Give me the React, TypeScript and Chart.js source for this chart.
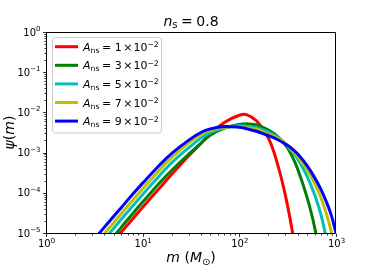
import React, { useEffect, useRef } from "react";
import { Chart, registerables } from "chart.js";
Chart.register(...registerables);

// Masses (M_sun) at which the curves were read
const masses = [3, 4, 5, 6, 8, 10, 15, 20, 30, 40, 50, 70, 100, 120, 150, 200, 250, 300, 350, 400, 500, 600, 700, 800, 900, 1000];

// psi(m) for each A_ns (null = far below the plotted range)
const psiA1 = [1.41e-6, 3.24e-6, 6.31e-6, 1.05e-5, 2.34e-5, 4.37e-5, 1.32e-4, 2.88e-4, 8.32e-4, 1.7e-3, 2.88e-3, 5.62e-3, 8.51e-3, 8.71e-3, 6.17e-3, 2.29e-3, 4.9e-4, 8.51e-5, 1.26e-5, 1.78e-6, null, null, null, null, null, null];
const psiA3 = [1.86e-6, 4.27e-6, 8.13e-6, 1.38e-5, 3.16e-5, 5.89e-5, 1.78e-4, 3.63e-4, 9.12e-4, 1.7e-3, 2.69e-3, 4.07e-3, 5.01e-3, 5.19e-3, 4.9e-3, 3.63e-3, 2.51e-3, 1.55e-3, 8.32e-4, 3.98e-4, 7.94e-5, 1.41e-5, 1.58e-6, null, null, null];
const psiA5 = [3.02e-6, 6.92e-6, 1.29e-5, 2.19e-5, 4.9e-5, 9.12e-5, 2.69e-4, 5.62e-4, 1.32e-3, 2.29e-3, 3.16e-3, 4.17e-3, 4.68e-3, 4.47e-3, 4.17e-3, 3.24e-3, 2.45e-3, 1.66e-3, 1.07e-3, 7.08e-4, 2.63e-4, 9.12e-5, 2.82e-5, 6.31e-6, 6.31e-7, null];
const psiA7 = [4.17e-6, 9.55e-6, 1.78e-5, 3.02e-5, 6.76e-5, 1.26e-4, 3.72e-4, 7.59e-4, 1.74e-3, 2.82e-3, 3.55e-3, 4.27e-3, 4.47e-3, 4.17e-3, 3.8e-3, 2.88e-3, 2.29e-3, 1.7e-3, 1.17e-3, 7.94e-4, 3.8e-4, 1.74e-4, 7.41e-5, 2.88e-5, 1.0e-5, 3.16e-6];
const psiA9 = [6.03e-6, 1.38e-5, 2.57e-5, 4.27e-5, 9.55e-5, 1.74e-4, 4.9e-4, 9.55e-4, 2.04e-3, 3.16e-3, 3.89e-3, 4.47e-3, 4.27e-3, 3.89e-3, 3.39e-3, 2.63e-3, 2.09e-3, 1.62e-3, 1.26e-3, 9.33e-4, 4.79e-4, 2.4e-4, 1.2e-4, 5.75e-5, 2.63e-5, 1.0e-5];

const seriesValues = [psiA1, psiA3, psiA5, psiA7, psiA9];
const legendCoefficients = ["1", "3", "5", "7", "9"];
const legendExponent = "\u22122";
const seriesColors = ["#ff0000", "#008000", "#00bfbf", "#bfbf00", "#0000ff"];

const titleValue = "0.8";
const xTickExponents = [0, 1, 2, 3];
const yTickExponents = [-5, -4, -3, -2, -1, 0];
const xMin = 1, xMax = 1000, yMin = 1e-5, yMax = 1;

const FAMILY = "'DejaVu Sans', 'Liberation Sans', sans-serif";

type Run = { t: string; size: number; italic?: boolean; dy?: number; gap?: number };

function fontOf(r: Run) {
  return `${r.italic ? "italic " : ""}${r.size}px ${FAMILY}`;
}
function runsWidth(ctx: CanvasRenderingContext2D, runs: Run[]) {
  let w = 0;
  for (const r of runs) {
    ctx.font = fontOf(r);
    w += (r.gap || 0) + ctx.measureText(r.t).width;
  }
  return w;
}
function drawRuns(ctx: CanvasRenderingContext2D, runs: Run[], x: number, y: number) {
  let cx = x;
  ctx.textBaseline = "alphabetic";
  ctx.textAlign = "left";
  for (const r of runs) {
    cx += r.gap || 0;
    ctx.font = fontOf(r);
    ctx.fillText(r.t, cx, y + (r.dy || 0));
    cx += ctx.measureText(r.t).width;
  }
}
function expText(e: number) {
  return e < 0 ? "\u2212" + String(-e) : String(e);
}

const decorPlugin = {
  id: "decor",
  beforeDraw(chart: any) {
    const ctx = chart.ctx as CanvasRenderingContext2D;
    ctx.save();
    ctx.fillStyle = "#ffffff";
    ctx.fillRect(0, 0, chart.width, chart.height);
    ctx.restore();
  },
  afterDraw(chart: any) {
    const ctx = chart.ctx as CanvasRenderingContext2D;
    const { left, right, top, bottom } = chart.chartArea;
    const xs = chart.scales.x;
    const ys = chart.scales.y;
    ctx.save();
    ctx.fillStyle = "#000";
    ctx.strokeStyle = "#000";

    // frame
    ctx.lineWidth = 1;
    ctx.beginPath();
    ctx.rect(left + 0.5, top + 0.5, right - left - 1, bottom - top);
    ctx.stroke();

    // ticks (major and minor) placed through the scales
    ctx.lineWidth = 0.8;
    ctx.beginPath();
    for (let e = Math.floor(Math.log10(xs.min)); e <= Math.ceil(Math.log10(xs.max)); e++) {
      for (let k = 1; k <= 9; k++) {
        const v = k * Math.pow(10, e);
        if (v < xs.min * 0.999 || v > xs.max * 1.001) continue;
        const px = Math.round(xs.getPixelForValue(v)) + 0.5;
        ctx.moveTo(px, bottom + 0.5);
        ctx.lineTo(px, bottom + 0.5 + (k === 1 ? 3.5 : 2));
      }
    }
    for (let e = Math.floor(Math.log10(ys.min)); e <= Math.ceil(Math.log10(ys.max)); e++) {
      for (let k = 1; k <= 9; k++) {
        const v = k * Math.pow(10, e);
        if (v < ys.min * 0.999 || v > ys.max * 1.001) continue;
        const py = Math.round(ys.getPixelForValue(v)) + 0.5;
        ctx.moveTo(left + 0.5, py);
        ctx.lineTo(left + 0.5 - (k === 1 ? 3.5 : 2), py);
      }
    }
    ctx.stroke();

    // tick labels
    for (const e of xTickExponents) {
      const px = xs.getPixelForValue(Math.pow(10, e));
      const runs: Run[] = [
        { t: "10", size: 10 },
        { t: expText(e), size: 7, dy: -4 },
      ];
      const w = runsWidth(ctx, runs);
      drawRuns(ctx, runs, px - w / 2 + 0.5, bottom + 13.5);
    }
    for (const e of yTickExponents) {
      const py = ys.getPixelForValue(Math.pow(10, e));
      const runs: Run[] = [
        { t: "10", size: 10 },
        { t: expText(e), size: 7, dy: -4.7 },
      ];
      const w = runsWidth(ctx, runs);
      drawRuns(ctx, runs, left - 5.5 - w, py + 3.6);
    }

    // title
    const cx = (left + right) / 2;
    const titleRuns: Run[] = [
      { t: "n", size: 14, italic: true },
      { t: "s", size: 10, dy: 2 },
      { t: "=", size: 14, gap: 3.5 },
      { t: titleValue, size: 14, gap: 3.5 },
    ];
    drawRuns(ctx, titleRuns, cx - runsWidth(ctx, titleRuns) / 2, 26);

    // x label
    const xRuns: Run[] = [
      { t: "m", size: 14, italic: true },
      { t: " (", size: 14 },
      { t: "M", size: 14, italic: true },
      { t: "\u2299", size: 9.8, dy: 2.5 },
      { t: ")", size: 14 },
    ];
    drawRuns(ctx, xRuns, cx - runsWidth(ctx, xRuns) / 2, 262);

    // y label
    const yRuns: Run[] = [
      { t: "\u03c8", size: 14, italic: true },
      { t: "(", size: 14 },
      { t: "m", size: 14, italic: true },
      { t: ")", size: 14 },
    ];
    ctx.save();
    ctx.translate(13.5, (top + bottom) / 2);
    ctx.rotate(-Math.PI / 2);
    drawRuns(ctx, yRuns, -runsWidth(ctx, yRuns) / 2, 0);
    ctx.restore();

    // legend
    const lx = 52.5, ly = 37.5, lw = 109, lh = 95.5;
    ctx.beginPath();
    (ctx as any).roundRect(lx, ly, lw, lh, 3);
    ctx.fillStyle = "rgba(255,255,255,0.8)";
    ctx.fill();
    ctx.strokeStyle = "#cccccc";
    ctx.lineWidth = 1;
    ctx.stroke();
    legendCoefficients.forEach((c, i) => {
      const yy = 46.7 + i * 18.6;
      ctx.strokeStyle = seriesColors[i];
      ctx.lineWidth = 3;
      ctx.beginPath();
      ctx.moveTo(55, yy);
      ctx.lineTo(78, yy);
      ctx.stroke();
      ctx.fillStyle = "#000";
      const runs: Run[] = [
        { t: "A", size: 11, italic: true },
        { t: "ns", size: 7.7, dy: 2 },
        { t: "=", size: 11, gap: 2.5 },
        { t: c, size: 11, gap: 3.6 },
        { t: "\u00d7", size: 11, gap: 1.5 },
        { t: "10", size: 11, gap: 1 },
        { t: legendExponent, size: 7.7, dy: -3.5 },
      ];
      drawRuns(ctx, runs, 83, yy + 4);
    });
    ctx.restore();
  },
};

export default function App() {
  const ref = useRef<HTMLCanvasElement>(null);
  useEffect(() => {
    const canvas = ref.current!;
    const datasets = seriesValues.map((vals, i) => ({
      label: `A_ns = ${legendCoefficients[i]}e-2`,
      data: masses
        .map((m, j) => ({ x: m, y: vals[j] }))
        .filter((p) => p.y !== null) as { x: number; y: number }[],
      borderColor: seriesColors[i],
      backgroundColor: seriesColors[i],
      borderWidth: 3,
      pointRadius: 0,
      fill: false,
      tension: 0.4,
      clip: 0,
      order: seriesValues.length - i,
    }));
    const chart = new Chart(canvas, {
      type: "line",
      data: { datasets },
      options: {
        responsive: false,
        animation: false,
        devicePixelRatio: 1,
        events: [],
        layout: { padding: { top: 32, right: 38, left: 0, bottom: 0 } },
        plugins: {
          legend: { display: false },
          title: { display: false },
          tooltip: { enabled: false },
        },
        scales: {
          x: {
            type: "logarithmic",
            min: xMin,
            max: xMax,
            grid: { display: false },
            border: { display: false },
            ticks: { display: false },
            afterFit: (s: any) => {
              s.height = 33;
            },
          },
          y: {
            type: "logarithmic",
            min: yMin,
            max: yMax,
            grid: { display: false },
            border: { display: false },
            ticks: { display: false },
            afterFit: (s: any) => {
              s.width = 46;
            },
          },
        },
      } as any,
      plugins: [decorPlugin],
    });
    return () => chart.destroy();
  }, []);
  return (
    <div style={{ position: "fixed", left: 0, top: 0, width: 374, height: 266, background: "#fff" }}>
      <canvas ref={ref} width={374} height={266} style={{ display: "block" }} />
    </div>
  );
}
